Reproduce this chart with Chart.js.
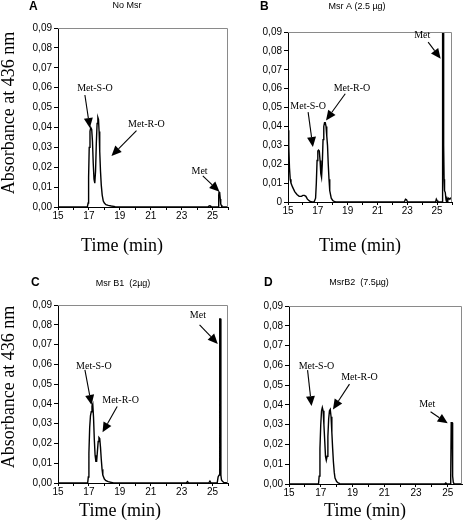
<!DOCTYPE html>
<html>
<head>
<meta charset="utf-8">
<script src="https://cdn.jsdelivr.net/npm/chart.js@4.4.1/dist/chart.umd.min.js"></script>
<style>
  html, body { margin: 0; padding: 0; background: #fff; }
  #figure { position: relative; width: 464px; height: 531px; }
  .panel { position: absolute; }
</style>
</head>
<body>
<div id="figure">
  <div class="panel" style="left:0;top:0;width:232px;height:260px"><canvas id="panelA"></canvas></div>
  <div class="panel" style="left:232px;top:0;width:232px;height:260px"><canvas id="panelB"></canvas></div>
  <div class="panel" style="left:0;top:260px;width:232px;height:271px"><canvas id="panelC"></canvas></div>
  <div class="panel" style="left:232px;top:260px;width:232px;height:271px"><canvas id="panelD"></canvas></div>
</div>
<script>
// chromatogram traces, time in min / absorbance at 436 nm
const timeA = [15, 16.9, 16.95, 16.98, 17.02, 17.07, 17.12, 17.18, 17.23, 17.28, 17.33, 17.38, 17.43, 17.48, 17.53, 17.58, 17.62, 17.66, 17.7, 17.75, 17.8, 17.86, 17.93, 18.0, 18.1, 18.25, 18.45, 18.7, 18.9, 24.7, 24.78, 24.84, 24.9, 25.38, 25.4, 25.42, 25.44, 25.46, 25.48, 25.5, 25.53, 25.56, 25.6, 26];
const absA = [0, 0, 0.002, 0.015, 0.03, 0.038, 0.04, 0.039, 0.033, 0.022, 0.014, 0.012, 0.018, 0.032, 0.042, 0.045, 0.044, 0.038, 0.028, 0.018, 0.011, 0.006, 0.003, 0.002, 0.0012, 0.0008, 0.0005, 0.0002, 0, 0, 0.0005, 0.0006, 0, 0, 0.006, 0.0075, 0.0075, 0.0072, 0.0074, 0.004, 0.0015, 0.001, 0, 0];

const timeB = [15, 15.05, 15.1, 15.15, 15.2, 15.3, 15.45, 15.6, 15.75, 15.9, 16.0, 16.1, 16.2, 16.3, 16.45, 16.6, 16.75, 16.85, 16.9, 16.95, 17.0, 17.05, 17.1, 17.15, 17.2, 17.25, 17.3, 17.35, 17.4, 17.45, 17.5, 17.55, 17.6, 17.65, 17.7, 17.75, 17.8, 17.9, 18.0, 18.1, 18.2, 22.8, 22.88, 22.95, 23.02, 24.9, 24.95, 25.0, 25.05, 25.33, 25.36, 25.38, 25.41, 25.44, 25.47, 25.5, 25.55, 25.6, 25.63, 25.67, 25.72, 25.78, 25.85, 25.9, 26];
const absB = [0.038, 0.03, 0.018, 0.012, 0.01, 0.008, 0.0055, 0.004, 0.003, 0.003, 0.0035, 0.0035, 0.003, 0.0015, 0.0005, 0, 0, 0.002, 0.01, 0.022, 0.027, 0.0275, 0.027, 0.022, 0.015, 0.013, 0.02, 0.033, 0.04, 0.042, 0.042, 0.04, 0.035, 0.03, 0.02, 0.012, 0.006, 0.002, 0.0008, 0.0003, 0, 0, 0.0015, 0.0012, 0, 0, 0.0015, 0.0008, 0, 0, 0.1, 0.1, 0.1, 0.03, 0.012, 0.006, 0.005, 0.001, 0.0005, 0.002, 0.001, 0.002, 0.0015, 0.002, 0.0015];

const timeC = [15, 16.92, 16.96, 17.0, 17.05, 17.1, 17.15, 17.2, 17.25, 17.3, 17.35, 17.4, 17.45, 17.5, 17.55, 17.6, 17.65, 17.7, 17.75, 17.8, 17.85, 17.9, 18.0, 18.1, 18.25, 18.45, 18.6, 23.3, 23.38, 23.45, 24.75, 24.83, 24.9, 25.3, 25.36, 25.42, 25.45, 25.48, 25.51, 25.54, 25.58, 25.63, 25.72, 26];
const absC = [0, 0, 0.003, 0.015, 0.028, 0.034, 0.036, 0.039, 0.04, 0.033, 0.022, 0.014, 0.011, 0.011, 0.016, 0.021, 0.023, 0.0225, 0.018, 0.012, 0.007, 0.004, 0.002, 0.0012, 0.0007, 0.0003, 0, 0, 0.0007, 0, 0, 0.001, 0, 0, 0.003, 0.004, 0.083, 0.083, 0.083, 0.004, 0.0015, 0.001, 0.0003, 0];

const timeD = [15, 16.86, 16.9, 16.95, 17.0, 17.05, 17.1, 17.15, 17.2, 17.25, 17.3, 17.35, 17.4, 17.45, 17.5, 17.55, 17.6, 17.65, 17.7, 17.75, 17.8, 17.85, 17.9, 18.0, 18.1, 18.2, 18.35, 24.8, 24.88, 24.95, 25.15, 25.19, 25.22, 25.25, 25.28, 25.31, 25.35, 25.4, 25.9];
const absD = [0, 0, 0.004, 0.018, 0.03, 0.037, 0.0387, 0.037, 0.03, 0.022, 0.014, 0.012, 0.014, 0.024, 0.033, 0.037, 0.0377, 0.034, 0.026, 0.018, 0.011, 0.006, 0.003, 0.0012, 0.0006, 0.0002, 0, 0, 0.0005, 0, 0, 0.005, 0.031, 0.031, 0.031, 0.004, 0.001, 0, 0];

// peak labels: text position and arrow (tail -> tip), in data units
const peaksA = [
  { text: "Met-S-O", x: 17.39, y: 0.0594, from: [16.74, 0.0563], to: [17.06, 0.0397] },
  { text: "Met-R-O", x: 20.72, y: 0.0417, from: [20.08, 0.0384], to: [18.46, 0.0257] },
  { text: "Met", x: 24.16, y: 0.0178, from: [24.37, 0.0156], to: [25.45, 0.0077] }
];
const peaksB = [
  { text: "Met-S-O", x: 16.35, y: 0.0506, from: [16.35, 0.0476], to: [16.67, 0.0291] },
  { text: "Met-R-O", x: 19.29, y: 0.06, from: [18.84, 0.0573], to: [17.55, 0.0432] },
  { text: "Met", x: 24.0, y: 0.0882, from: [24.4, 0.0846], to: [25.24, 0.0759] }
];
const peaksC = [
  { text: "Met-S-O", x: 17.32, y: 0.0592, from: [16.74, 0.0572], to: [17.17, 0.0395] },
  { text: "Met-R-O", x: 19.05, y: 0.0417, from: [18.83, 0.0387], to: [17.88, 0.0256] },
  { text: "Met", x: 24.05, y: 0.085, from: [24.16, 0.08], to: [25.34, 0.0703] }
];
const peaksD = [
  { text: "Met-S-O", x: 16.73, y: 0.0596, from: [16.17, 0.0576], to: [16.42, 0.0394] },
  { text: "Met-R-O", x: 19.44, y: 0.0539, from: [18.81, 0.0505], to: [17.77, 0.0377] },
  { text: "Met", x: 23.71, y: 0.0404, from: [23.92, 0.0365], to: [25.0, 0.0307] }
];

const absTicks = [0, 0.01, 0.02, 0.03, 0.04, 0.05, 0.06, 0.07, 0.08, 0.09];
const timeTicks = [15, 16, 17, 18, 19, 20, 21, 22, 23, 24, 25, 26];
const timeLabels = [15, 17, 19, 21, 23, 25];

const SANS = "'Liberation Sans', Arial, sans-serif";
const SERIF = "'Liberation Serif', 'Times New Roman', serif";

function commaTick(value, plainZero) {
  if (plainZero && Math.abs(value) < 1e-9) return "0";
  return value.toFixed(2).replace(".", ",");
}

function drawArrow(ctx, x1, y1, x2, y2) {
  const angle = Math.atan2(y2 - y1, x2 - x1);
  const headLen = 10;
  const headHalf = 4.5;
  const bx = x2 - headLen * Math.cos(angle);
  const by = y2 - headLen * Math.sin(angle);
  ctx.beginPath();
  ctx.moveTo(x1, y1);
  ctx.lineTo(bx, by);
  ctx.stroke();
  ctx.beginPath();
  ctx.moveTo(x2, y2);
  ctx.lineTo(bx + headHalf * Math.sin(angle), by - headHalf * Math.cos(angle));
  ctx.lineTo(bx - headHalf * Math.sin(angle), by + headHalf * Math.cos(angle));
  ctx.closePath();
  ctx.fill();
}

const panelDecor = {
  id: "panelDecor",
  afterDraw(chart, args, opts) {
    const { ctx, chartArea, scales: { x, y } } = chart;
    ctx.save();

    // grey frame on top and right
    ctx.strokeStyle = "#8a8a8a";
    ctx.lineWidth = 1;
    ctx.beginPath();
    ctx.moveTo(Math.round(chartArea.left), Math.round(chartArea.top) + 0.5);
    ctx.lineTo(Math.round(chartArea.right) - 0.5, Math.round(chartArea.top) + 0.5);
    ctx.lineTo(Math.round(chartArea.right) - 0.5, Math.round(chartArea.bottom));
    ctx.stroke();

    // peak labels with arrows
    ctx.fillStyle = "#000";
    ctx.strokeStyle = "#000";
    ctx.lineWidth = 1.1;
    ctx.font = `10px ${SERIF}`;
    ctx.textAlign = "center";
    ctx.textBaseline = "middle";
    opts.peaks.forEach(p => {
      ctx.fillText(p.text, x.getPixelForValue(p.x), y.getPixelForValue(p.y));
      drawArrow(ctx,
        x.getPixelForValue(p.from[0]), y.getPixelForValue(p.from[1]),
        x.getPixelForValue(p.to[0]), y.getPixelForValue(p.to[1]));
    });

    // panel letter and condition
    ctx.textAlign = "left";
    ctx.font = `bold 12px ${SANS}`;
    ctx.fillText(opts.letter, opts.letterAt[0], opts.letterAt[1]);
    ctx.textAlign = "center";
    ctx.font = `9px ${SANS}`;
    ctx.fillText(opts.condition, opts.conditionAt[0], opts.conditionAt[1]);

    // axis titles
    ctx.font = `18px ${SERIF}`;
    ctx.fillText("Time (min)", opts.xTitleAt[0], opts.xTitleAt[1]);
    if (opts.yTitleAt) {
      ctx.translate(opts.yTitleAt[0], opts.yTitleAt[1]);
      ctx.rotate(-Math.PI / 2);
      ctx.fillText("Absorbance at 436 nm", 0, 0);
    }
    ctx.restore();
  }
};

function buildPanel(id, time, abs, panel) {
  const canvas = document.getElementById(id);
  const height = canvas.parentNode.clientHeight;
  const tickFont = { family: SANS, size: 10 };

  new Chart(canvas, {
    type: "line",
    data: {
      datasets: [{
        data: time.map((t, i) => ({ x: t, y: abs[i] })),
        borderColor: "#000",
        borderWidth: 1.4,
        pointRadius: 0,
        tension: 0,
        fill: false
      }]
    },
    options: {
      responsive: true,
      maintainAspectRatio: false,
      animation: false,
      events: [],
      layout: { padding: { top: panel.top, right: panel.right, left: 0, bottom: 0 } },
      plugins: {
        legend: { display: false },
        tooltip: { enabled: false },
        panelDecor: panel.decor
      },
      scales: {
        x: {
          type: "linear",
          min: 15,
          max: panel.xMax,
          afterFit: scale => { scale.height = height - panel.bottom; },
          afterBuildTicks: scale => {
            scale.ticks = timeTicks.filter(v => v <= panel.xMax).map(v => ({ value: v }));
          },
          ticks: {
            autoSkip: false,
            maxRotation: 0,
            padding: 0,
            color: "#000",
            font: tickFont,
            callback: value => timeLabels.includes(value) ? String(value) : ""
          },
          grid: { drawOnChartArea: false, tickLength: 3, color: "#000" },
          border: { color: "#000", width: 1 }
        },
        y: {
          min: 0,
          max: 0.09,
          afterFit: scale => { scale.width = panel.left; },
          afterBuildTicks: scale => { scale.ticks = absTicks.map(v => ({ value: v })); },
          ticks: {
            padding: 2,
            color: "#000",
            font: tickFont,
            callback: value => commaTick(value, panel.plainZero)
          },
          grid: { drawOnChartArea: false, tickLength: 4, color: "#000" },
          border: { color: "#000", width: 1 }
        }
      }
    },
    plugins: [panelDecor]
  });
}

buildPanel("panelA", timeA, absA, {
  left: 58, top: 28, right: 4, bottom: 207, xMax: 26, plainZero: false,
  decor: { peaks: peaksA, letter: "A", letterAt: [29, 7], condition: "No Msr", conditionAt: [127, 6],
    xTitleAt: [122, 246], yTitleAt: [9, 113] }
});
buildPanel("panelB", timeB, absB, {
  left: 56, top: 32, right: 12, bottom: 202, xMax: 26, plainZero: true,
  decor: { peaks: peaksB, letter: "B", letterAt: [28, 7], condition: "Msr A (2.5 µg)", conditionAt: [125, 6.5],
    xTitleAt: [128, 246] }
});
buildPanel("panelC", timeC, absC, {
  left: 58, top: 45, right: 4, bottom: 223, xMax: 26, plainZero: false,
  decor: { peaks: peaksC, letter: "C", letterAt: [31, 23], condition: "Msr B1  (2µg)", conditionAt: [123, 23.5],
    xTitleAt: [120, 251], yTitleAt: [9, 127] }
});
buildPanel("panelD", timeD, absD, {
  left: 57, top: 46, right: 2, bottom: 224, xMax: 25.9, plainZero: false,
  decor: { peaks: peaksD, letter: "D", letterAt: [32, 23], condition: "MsrB2  (7.5µg)", conditionAt: [127, 23],
    xTitleAt: [133, 251] }
});
</script>
</body>
</html>
